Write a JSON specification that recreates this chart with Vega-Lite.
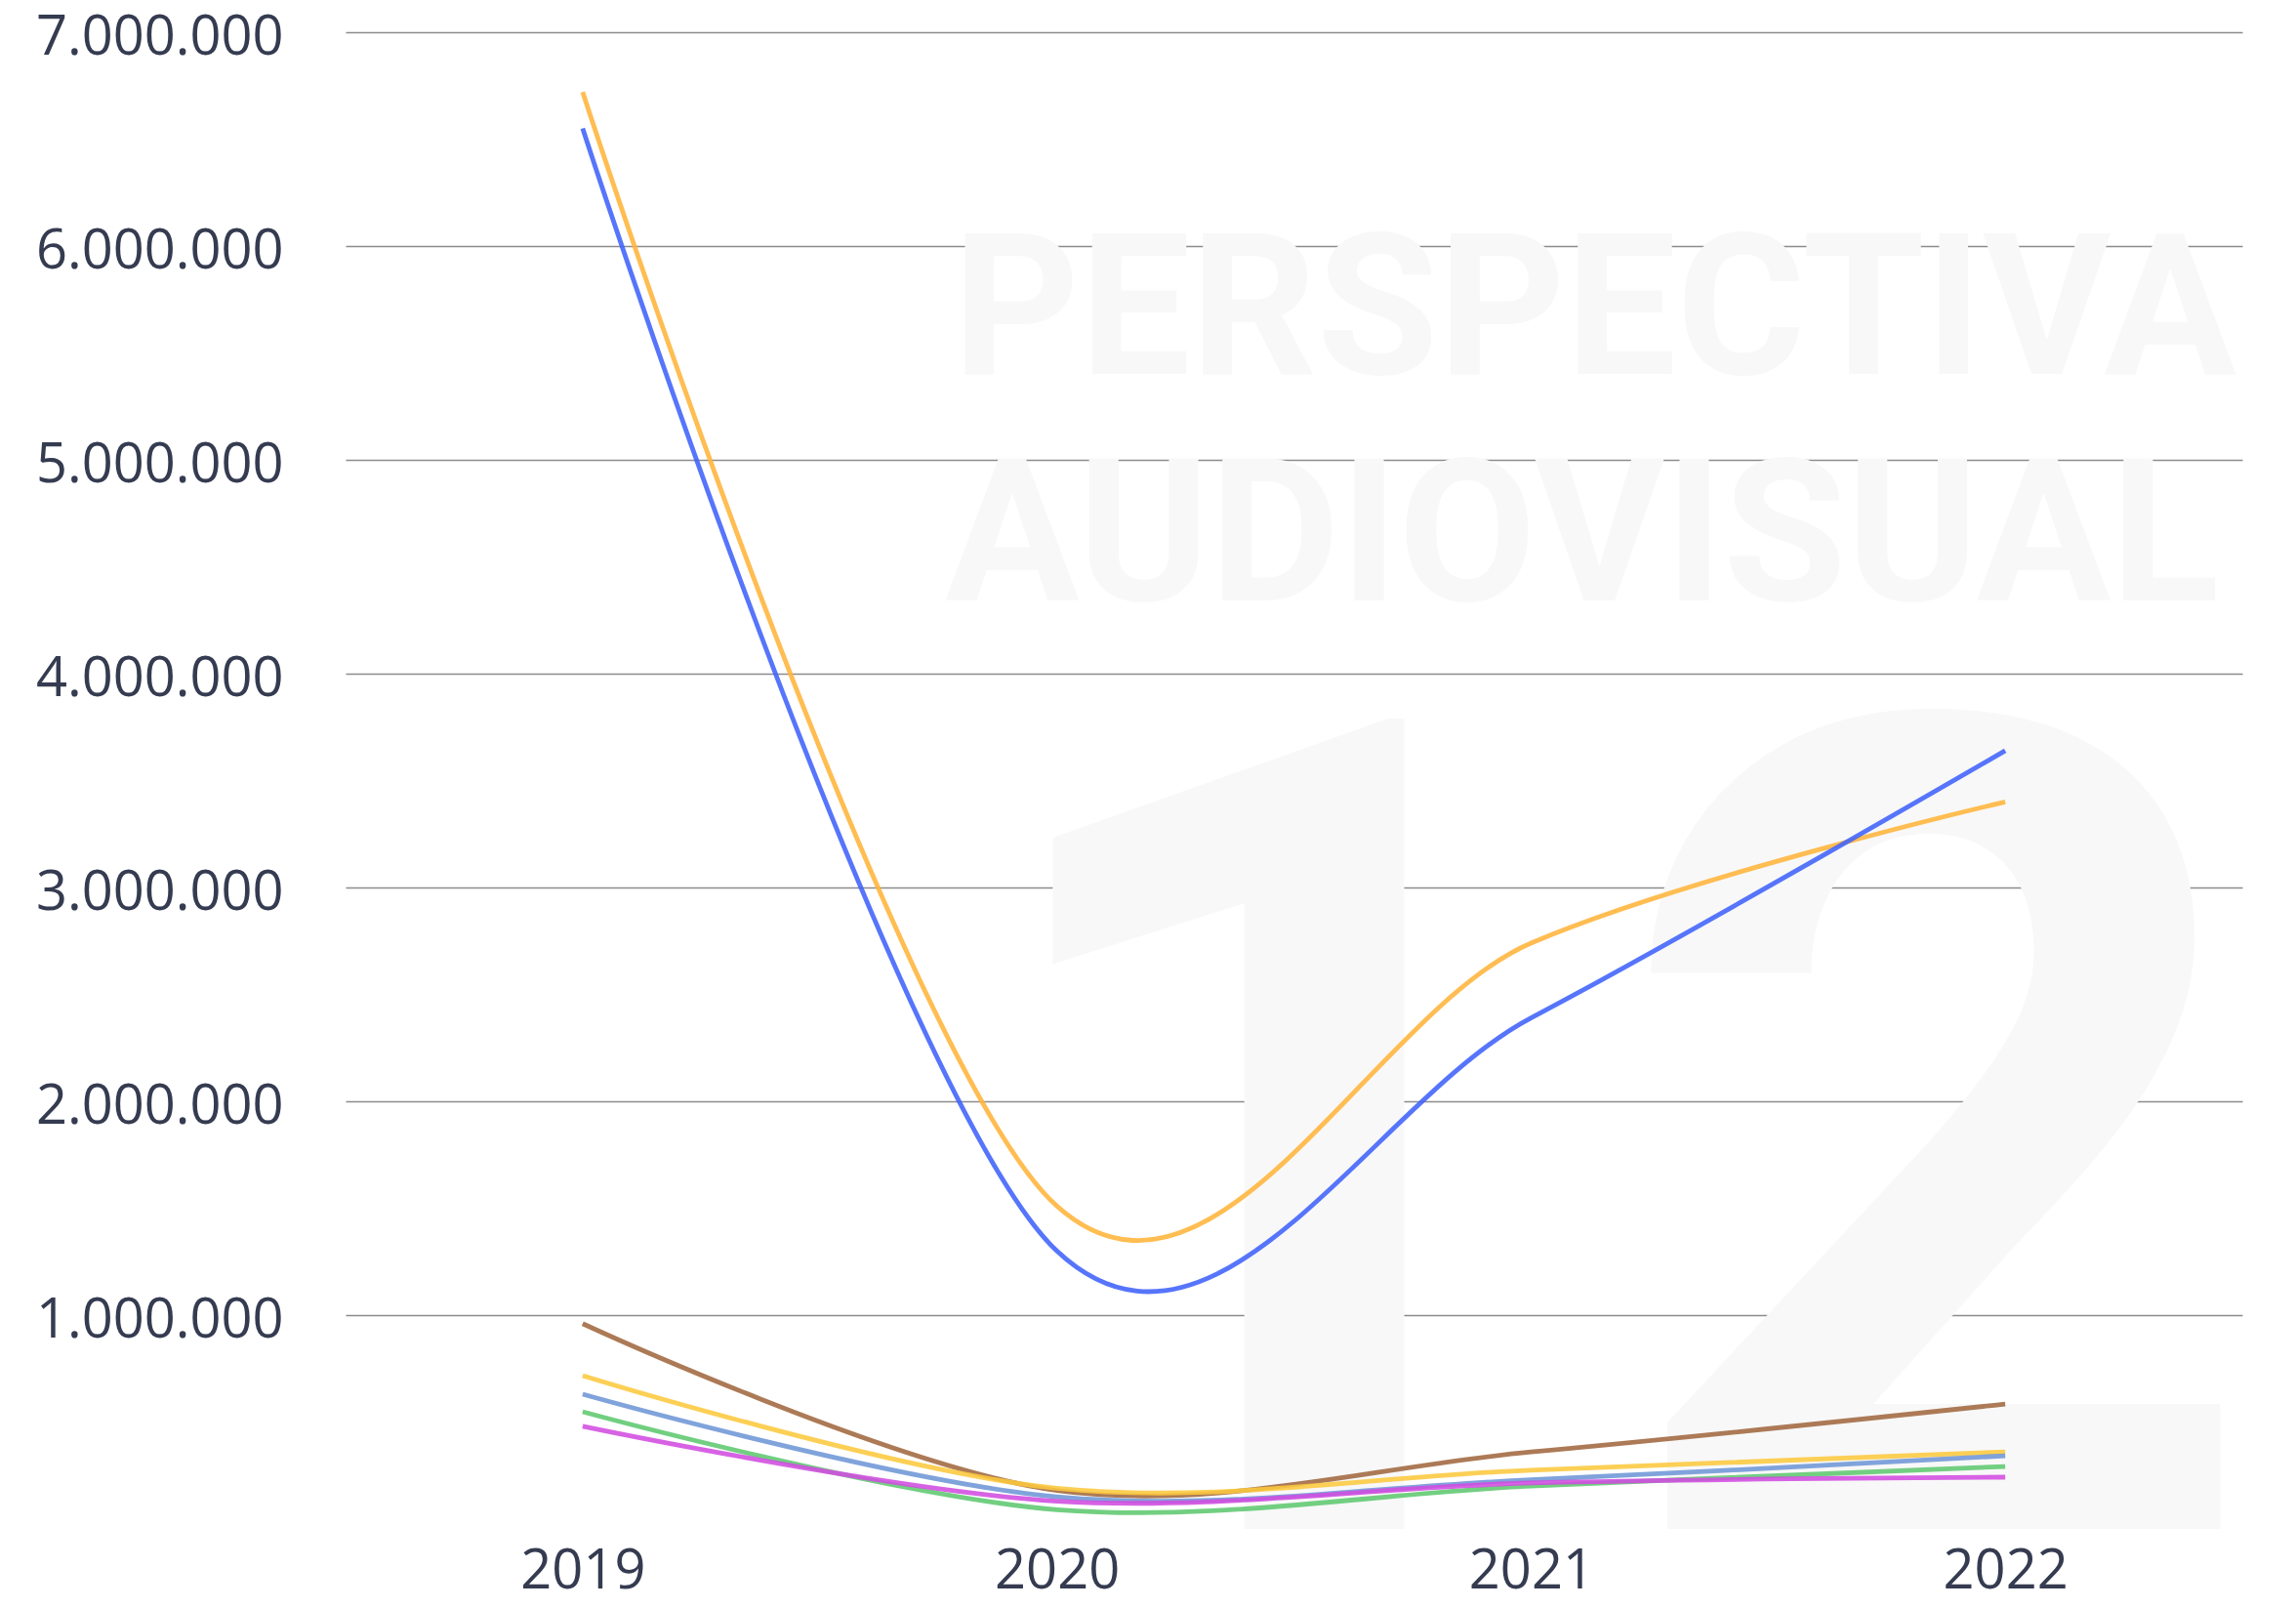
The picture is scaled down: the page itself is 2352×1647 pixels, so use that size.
{
  "$schema": "https://vega.github.io/schema/vega-lite/v6.json",
  "autosize": "none",
  "width": 1943,
  "height": 1533,
  "padding": {"left": 354, "top": 33, "right": 55, "bottom": 81},
  "background": "white",
  "config": {
    "view": {"stroke": null},
    "axis": {"labelFont": "Open Sans", "labelFontSize": 56, "labelColor": "#353b50", "domain": false, "ticks": false, "labelLimit": 500}
  },
  "layer": [
    {
      "data": {"values": [{"t": "PERSPECTIVA"}]},
      "mark": {"type": "text", "font": "Roboto", "fontWeight": "bold", "fontSize": 202, "align": "left", "baseline": "alphabetic", "color": "#f8f8f8"},
      "encoding": {
        "x": {"datum": 2019.78, "type": "quantitative", "scale": {"domain": [2018.5, 2022.5], "nice": false}},
        "y": {"datum": 5400000, "type": "quantitative", "scale": {"domain": [0, 7000000], "nice": false}},
        "text": {"field": "t"}
      }
    },
    {
      "data": {"values": [{"t": "AUDIOVISUAL"}]},
      "mark": {"type": "text", "font": "Roboto", "fontWeight": "bold", "fontSize": 205, "align": "left", "baseline": "alphabetic", "color": "#f8f8f8"},
      "encoding": {
        "x": {"datum": 2019.764, "type": "quantitative", "scale": {"domain": [2018.5, 2022.5], "nice": false}},
        "y": {"datum": 4342000, "type": "quantitative", "scale": {"domain": [0, 7000000], "nice": false}},
        "text": {"field": "t"}
      }
    },
    {
      "data": {"values": [{"t": "12"}]},
      "mark": {"type": "text", "font": "Roboto", "fontWeight": "bold", "fontSize": 1165, "align": "center", "baseline": "alphabetic", "color": "#f8f8f8"},
      "encoding": {
        "x": {"datum": 2021.17, "type": "quantitative", "scale": {"domain": [2018.5, 2022.5], "nice": false}},
        "y": {"datum": 0, "type": "quantitative", "scale": {"domain": [0, 7000000], "nice": false}},
        "text": {"field": "t"}
      }
    },
    {
      "data": {
        "values": [
          {"serie": "Serie 1", "year": 2019, "value": 6720000},
          {"serie": "Serie 1", "year": 2020, "value": 1510000},
          {"serie": "Serie 1", "year": 2021, "value": 2740000},
          {"serie": "Serie 1", "year": 2022, "value": 3400000},
          {"serie": "Serie 2", "year": 2019, "value": 6550000},
          {"serie": "Serie 2", "year": 2020, "value": 1300000},
          {"serie": "Serie 2", "year": 2021, "value": 2390000},
          {"serie": "Serie 2", "year": 2022, "value": 3640000},
          {"serie": "Serie 3", "year": 2019, "value": 960000},
          {"serie": "Serie 3", "year": 2020, "value": 180000},
          {"serie": "Serie 3", "year": 2021, "value": 360000},
          {"serie": "Serie 3", "year": 2022, "value": 584000},
          {"serie": "Serie 4", "year": 2019, "value": 717000},
          {"serie": "Serie 4", "year": 2020, "value": 190000},
          {"serie": "Serie 4", "year": 2021, "value": 275000},
          {"serie": "Serie 4", "year": 2022, "value": 360000},
          {"serie": "Serie 5", "year": 2019, "value": 630000},
          {"serie": "Serie 5", "year": 2020, "value": 150000},
          {"serie": "Serie 5", "year": 2021, "value": 230000},
          {"serie": "Serie 5", "year": 2022, "value": 342000},
          {"serie": "Serie 6", "year": 2019, "value": 548000},
          {"serie": "Serie 6", "year": 2020, "value": 90000},
          {"serie": "Serie 6", "year": 2021, "value": 200000},
          {"serie": "Serie 6", "year": 2022, "value": 292000},
          {"serie": "Serie 7", "year": 2019, "value": 480000},
          {"serie": "Serie 7", "year": 2020, "value": 130000},
          {"serie": "Serie 7", "year": 2021, "value": 215000},
          {"serie": "Serie 7", "year": 2022, "value": 242000}
        ]
      },
      "mark": {"type": "line", "interpolate": "cardinal", "strokeWidth": 4.8, "opacity": 0.88},
      "encoding": {
        "x": {
          "field": "year", "type": "quantitative",
          "scale": {"domain": [2018.5, 2022.5], "nice": false},
          "axis": {"values": [2019, 2020, 2021, 2022], "format": "d", "grid": false, "title": null, "labelPadding": 16}
        },
        "y": {
          "field": "value", "type": "quantitative",
          "scale": {"domain": [0, 7000000], "nice": false},
          "axis": {"values": [1000000, 2000000, 3000000, 4000000, 5000000, 6000000, 7000000], "labelExpr": "replace(format(datum.value, ',d'), /,/g, '.')", "grid": true, "gridColor": "#8c8c8c", "gridWidth": 1.6, "title": null, "labelPadding": 64, "labelOffset": 5}
        },
        "color": {
          "field": "serie", "type": "nominal", "legend": null,
          "scale": {
            "domain": ["Serie 1", "Serie 2", "Serie 3", "Serie 4", "Serie 5", "Serie 6", "Serie 7"],
            "range": ["#ffb43a", "#3f62fb", "#a0683f", "#fcc83e", "#6e96d6", "#5fc86f", "#d24ce0"]
          }
        }
      }
    }
  ]
}
